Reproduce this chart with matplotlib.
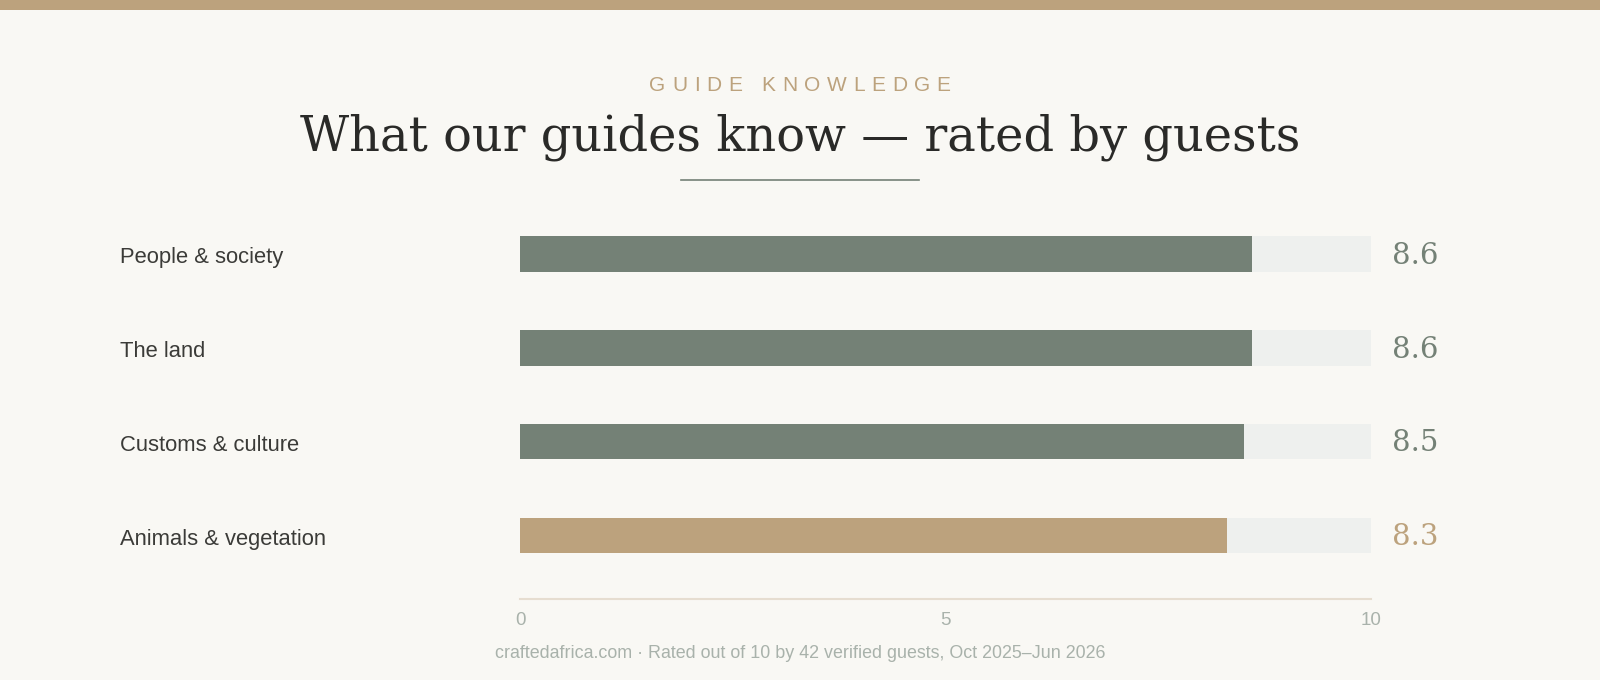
import matplotlib
matplotlib.use("Agg")
import matplotlib.pyplot as plt
from matplotlib.lines import Line2D
from matplotlib.patches import Rectangle

# ---- data -------------------------------------------------------------------
categories = ["People & society", "The land", "Customs & culture", "Animals & vegetation"]
scores = [8.6, 8.6, 8.5, 8.3]
highlight = [False, False, False, True]
max_score = 10
ticks = [0, 5, 10]
kicker = "GUIDE KNOWLEDGE"
title = "What our guides know — rated by guests"
footer = "craftedafrica.com · Rated out of 10 by 42 verified guests, Oct 2025–Jun 2026"

BG = "#f9f8f4"
GREEN = "#748176"
TAN = "#bca27d"
TRACK = "#eef0ee"
INK = "#3b3b38"
MUTED = "#a9b2ab"

W, H = 1568, 666  # reference layout units


def fx(x):
    return x / W


def fy(y):
    return 1 - y / H


fig = plt.figure(figsize=(16, 6.8), dpi=100, facecolor=BG)
renderer = fig.canvas.get_renderer()

# top band
fig.patches.append(Rectangle((0, fy(10)), 1, 10 / H, transform=fig.transFigure,
                             facecolor=TAN, edgecolor="none"))

# letter-spaced kicker: place each glyph, then centre the whole run
track = 0.32  # extra spacing, in em
size = 15
chars = []
for ch in kicker:
    t = fig.text(0, fy(84), ch, ha="left", va="center", fontsize=size, color=TAN,
                 family="Liberation Sans")
    chars.append(t)
em_px = size * 100 / 72
widths = []
for t in chars:
    if t.get_text() == " ":
        widths.append(0.28 * em_px)
    else:
        widths.append(t.get_window_extent(renderer).width)
total = sum(widths) + track * em_px * (len(chars) - 1)
figw = fig.get_figwidth() * fig.dpi
x = figw / 2 - total / 2
for t, w in zip(chars, widths):
    t.set_x(x / figw)
    x += w + track * em_px

fig.text(0.5, fy(134), title, ha="center", va="center", fontsize=34.5,
         color="#2a2a28", family="DejaVu Serif")
fig.lines.append(Line2D([fx(667), fx(901)], [fy(176), fy(176)], transform=fig.transFigure,
                        color=GREEN, lw=1.2))

# ---- bars -------------------------------------------------------------------
ax = fig.add_axes([fx(510), fy(587), fx(1344) - fx(510), (587 - 202.5) / H])
ax.set_facecolor(BG)
ypos = list(range(len(categories)))
ax.barh(ypos, [max_score] * len(categories), height=0.38, color=TRACK, zorder=1)
colors = [TAN if h else GREEN for h in highlight]
ax.barh(ypos, scores, height=0.38, color=colors, zorder=2)

ax.set_xlim(0, max_score)
ax.set_ylim(3 + 62.5 / 92, -0.5)
ax.set_yticks([])
ax.set_xticks(ticks)
ax.set_xticklabels([str(t) for t in ticks], fontsize=13.5, color=MUTED, family="Liberation Sans")
ax.tick_params(axis="x", length=0, pad=9)
for s in ("top", "right", "left"):
    ax.spines[s].set_visible(False)
ax.spines["bottom"].set_color("#e6ddd0")
ax.spines["bottom"].set_linewidth(1.5)

for y, cat, val, c in zip(ypos, categories, scores, colors):
    ax.text(-(510 - 118) / (1344 - 510) * max_score, y + 0.04, cat, ha="left", va="center",
            fontsize=15.8, color=INK, family="Liberation Sans")
    ax.text(max_score + (1364 - 1344) / (1344 - 510) * max_score, y + 0.02, f"{val:.1f}",
            ha="left", va="center", fontsize=21, color=c, family="DejaVu Serif")

fig.text(0.5, fy(640), footer, ha="center", va="center", fontsize=12.9,
         color=MUTED, family="Liberation Sans")

fig.savefig("out.png", dpi=100, facecolor=BG)
